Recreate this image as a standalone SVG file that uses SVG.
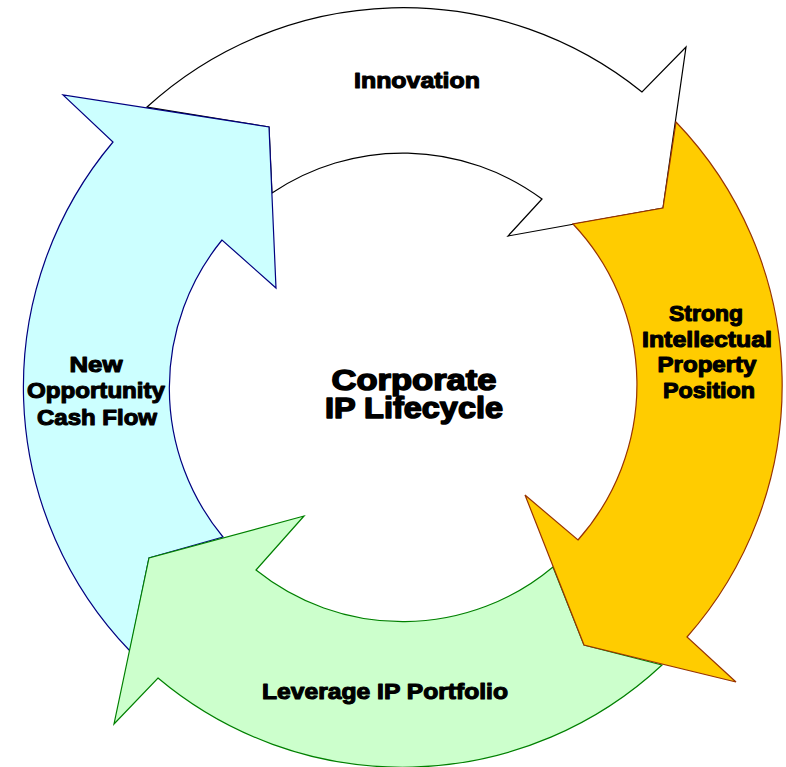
<svg xmlns="http://www.w3.org/2000/svg" width="786" height="767" viewBox="0 0 786 767">
  <style>
    .arrow { stroke-width: 1.2; stroke-linejoin: miter; }
    .lbl { font-family: "Liberation Sans", Arial, sans-serif; font-weight: bold; font-size: 22px; fill: #000; stroke: #000; stroke-width: 1.1; stroke-linejoin: round; text-anchor: middle; }
    .title { font-family: "Liberation Sans", Arial, sans-serif; font-weight: bold; font-size: 29px; fill: #000; stroke: #000; stroke-width: 1.5; stroke-linejoin: round; text-anchor: middle; }
  </style>
  <rect width="786" height="767" fill="#ffffff"/>

  <!-- four curved arrows of the cycle; each tail is cut to fit the preceding head -->
  <g id="connectors">
    <g id="innovation">
      <path class="arrow" fill="#ffffff" stroke="#000000"
            d="M147,107 A380,380 0 0 1 642,92 L686,47 L663,208 L508,236 L542,199 A234,234 0 0 0 272,193 L269,127 Z"/>
      <text class="lbl" x="417" y="88" textLength="126" lengthAdjust="spacingAndGlyphs">Innovation</text>
    </g>
    <g id="new-opportunity">
      <path class="arrow" fill="#ccffff" stroke="#000080"
            d="M130,651 A380,380 0 0 1 113,142 L63,95 L269,127 L276,288 L222,240 A234,234 0 0 0 223,537 L149,558 Z"/>
      <text class="lbl" x="96" y="372" textLength="53" lengthAdjust="spacingAndGlyphs">New</text>
      <text class="lbl" x="96" y="398" textLength="138" lengthAdjust="spacingAndGlyphs">Opportunity</text>
      <text class="lbl" x="97" y="425" textLength="120" lengthAdjust="spacingAndGlyphs">Cash Flow</text>
    </g>
    <g id="leverage">
      <path class="arrow" fill="#ccffcc" stroke="#008000"
            d="M662,665 A380,380 0 0 1 158,678 L114,724 L149,558 L304,516 L256,570 A234,234 0 0 0 553,567 L584,645 Z"/>
      <text class="lbl" x="385" y="699" textLength="246" lengthAdjust="spacingAndGlyphs">Leverage IP Portfolio</text>
    </g>
    <g id="strong-ip">
      <path class="arrow" fill="#ffcc00" stroke="#993300"
            d="M676,122 A380,380 0 0 1 687,637 L736,682 L584,645 L525,495 L578,540 A234,234 0 0 0 573,224 L663,208 Z"/>
      <text class="lbl" x="706" y="321" textLength="74" lengthAdjust="spacingAndGlyphs">Strong</text>
      <text class="lbl" x="707" y="347" textLength="130" lengthAdjust="spacingAndGlyphs">Intellectual</text>
      <text class="lbl" x="707" y="372" textLength="99" lengthAdjust="spacingAndGlyphs">Property</text>
      <text class="lbl" x="709" y="398" textLength="92" lengthAdjust="spacingAndGlyphs">Position</text>
    </g>
  </g>

  <!-- centre title -->
  <g id="title">
    <text class="title" x="414" y="390" textLength="165" lengthAdjust="spacingAndGlyphs">Corporate</text>
    <text class="title" x="414" y="418" textLength="178" lengthAdjust="spacingAndGlyphs">IP Lifecycle</text>
  </g>
</svg>
